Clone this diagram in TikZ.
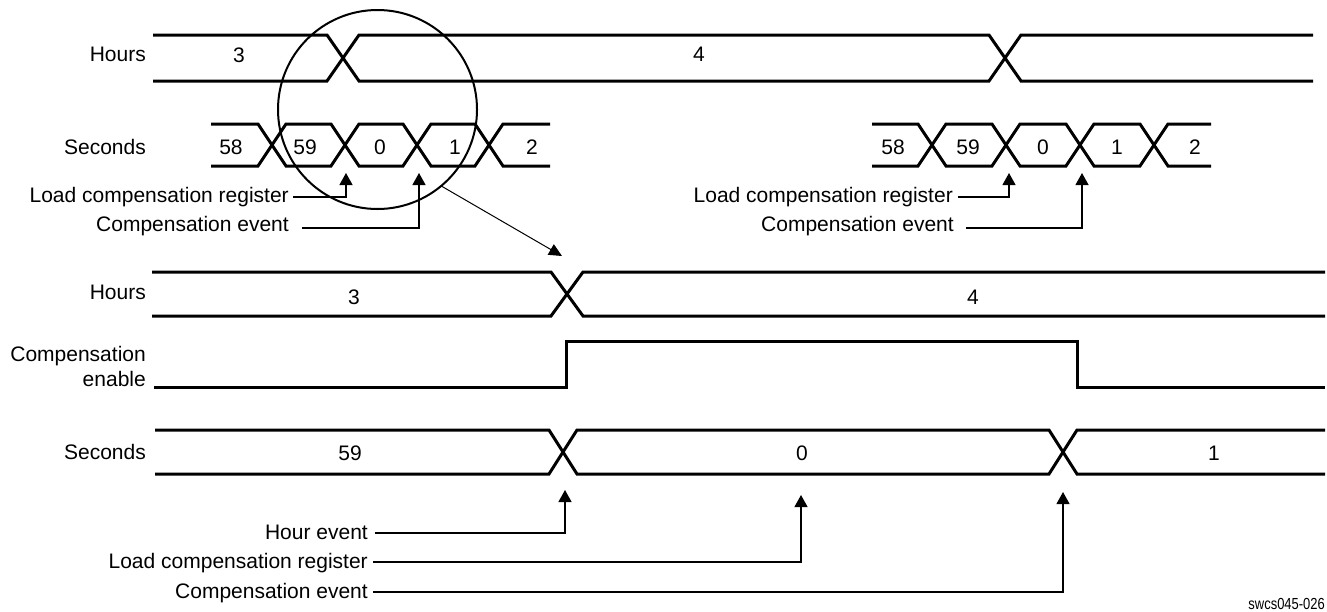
\documentclass[tikz,border=0pt]{standalone}
\usepackage{fontspec}
\setmainfont{Liberation Sans}
\usepackage{graphicx}
\usetikzlibrary{arrows.meta}
\begin{document}
\begin{tikzpicture}[x=1pt,y=-1pt,
  sig/.style={line width=3pt, line join=miter, black},
  conn/.style={line width=1.2pt, -{Triangle[length=12pt,width=13pt]}},
  lab/.style={font=\fontsize{21}{25}\selectfont, inner sep=0pt},
  rowlab/.style={lab, anchor=base east},
  val/.style={lab, anchor=base}]
\useasboundingbox (0,0) rectangle (1327,611);

% ---------- upper part ----------
% Hours (top)
\draw[sig] (153,35) -- (327,35) -- (359,81) -- (989,81) -- (1021,35) -- (1313,35);
\draw[sig] (153,81) -- (327,81) -- (359,35) -- (989,35) -- (1021,81) -- (1313,81);
\node[rowlab] (hT) at (146,61) {Hours};
\node[val] (hT3) at (239,62) {3};
\node[val] (hT4) at (699,61) {4};

% Seconds (top left)
\draw[sig] (211,124) -- (258,124) -- (286,166) -- (331,166) -- (359,124) -- (403,124) -- (431,166) -- (475,166) -- (503,124) -- (550,124);
\draw[sig] (211,166) -- (258,166) -- (286,124) -- (331,124) -- (359,166) -- (403,166) -- (431,124) -- (475,124) -- (503,166) -- (550,166);
\node[rowlab] (sT) at (146,154) {Seconds};
\node[val] (sL58) at (231,154) {58};
\node[val] (sL59) at (305,154) {59};
\node[val] (sL0) at (380,154) {0};
\node[val] (sL1) at (455,154) {1};
\node[val] (sL2) at (532,154) {2};

% Seconds (top right)
\draw[sig] (872,124) -- (918,124) -- (946,166) -- (992,166) -- (1020,124) -- (1066,124) -- (1094,166) -- (1140,166) -- (1168,124) -- (1211,124);
\draw[sig] (872,166) -- (918,166) -- (946,124) -- (992,124) -- (1020,166) -- (1066,166) -- (1094,124) -- (1140,124) -- (1168,166) -- (1211,166);
\node[val] (sR58) at (893,154) {58};
\node[val] (sR59) at (968,154) {59};
\node[val] (sR0) at (1043,154) {0};
\node[val] (sR1) at (1117,154) {1};
\node[val] (sR2) at (1195,154) {2};

% event labels (top)
\node[rowlab] (lcrL) at (289,202) {Load compensation register};
\node[rowlab] (ceL) at (289,231) {Compensation event};
\node[rowlab] (lcrR) at (953,202) {Load compensation register};
\node[rowlab] (ceR) at (954,231) {Compensation event};

\coordinate (lcrLs) at (293,197); \coordinate (lcrLt) at (346,173);
\coordinate (ceLs) at (302,228);  \coordinate (ceLt) at (419,173);
\coordinate (lcrRs) at (958,197); \coordinate (lcrRt) at (1009,173);
\coordinate (ceRs) at (966,228);  \coordinate (ceRt) at (1082,173);
\draw[conn] (lcrLs) -| (lcrLt);
\draw[conn] (ceLs) -| (ceLt);
\draw[conn] (lcrRs) -| (lcrRt);
\draw[conn] (ceRs) -| (ceRt);

% magnifier circle and arrow
\node[draw, circle, line width=2pt, minimum size=199pt, inner sep=0pt] (zoomc) at (377.5,109.5) {};
\coordinate (zt) at (562,256);
\draw[line width=1pt, -{Triangle[length=13pt,width=12pt]}] (zoomc.-50) -- (zt);

% ---------- lower part ----------
% Hours (bottom)
\draw[sig] (152,272) -- (551,272) -- (583,316) -- (1325,316);
\draw[sig] (152,316) -- (551,316) -- (583,272) -- (1325,272);
\node[rowlab] (hB) at (146,299) {Hours};
\node[val] (hB3) at (354,304) {3};
\node[val] (hB4) at (973,304) {4};

% Compensation enable
\draw[sig] (154,387) -- (566,387) -- (566,341) -- (1077,341) -- (1077,387) -- (1325,387);
\node[rowlab] (ce1) at (146,361) {Compensation};
\node[rowlab] (ce2) at (146,386) {enable};

% Seconds (bottom)
\draw[sig] (155,430) -- (549,430) -- (577,474) -- (1049,474) -- (1077,430) -- (1325,430);
\draw[sig] (155,474) -- (549,474) -- (577,430) -- (1049,430) -- (1077,474) -- (1325,474);
\node[rowlab] (sB) at (146,459) {Seconds};
\node[val] (sB59) at (350,460) {59};
\node[val] (sB0) at (802,460) {0};
\node[val] (sB1) at (1214,460) {1};

% event labels (bottom)
\node[rowlab] (heB) at (368,539) {Hour event};
\node[rowlab] (lcrB) at (368,568) {Load compensation register};
\node[rowlab] (ceB) at (368,598) {Compensation event};

\coordinate (heBs) at (375,533);  \coordinate (heBt) at (565,490);
\coordinate (lcrBs) at (373,562); \coordinate (lcrBt) at (801,495);
\coordinate (ceBs) at (373,592);  \coordinate (ceBt) at (1063,492);
\draw[conn] (heBs) -| (heBt);
\draw[conn] (lcrBs) -| (lcrBt);
\draw[conn] (ceBs) -| (ceBt);

% figure id
\node[anchor=base east, inner sep=0pt, font=\fontsize{16}{18}\selectfont] (figid) at (1325,609) {\scalebox{0.81}[1]{swcs045-026}};
\end{tikzpicture}
\end{document}
